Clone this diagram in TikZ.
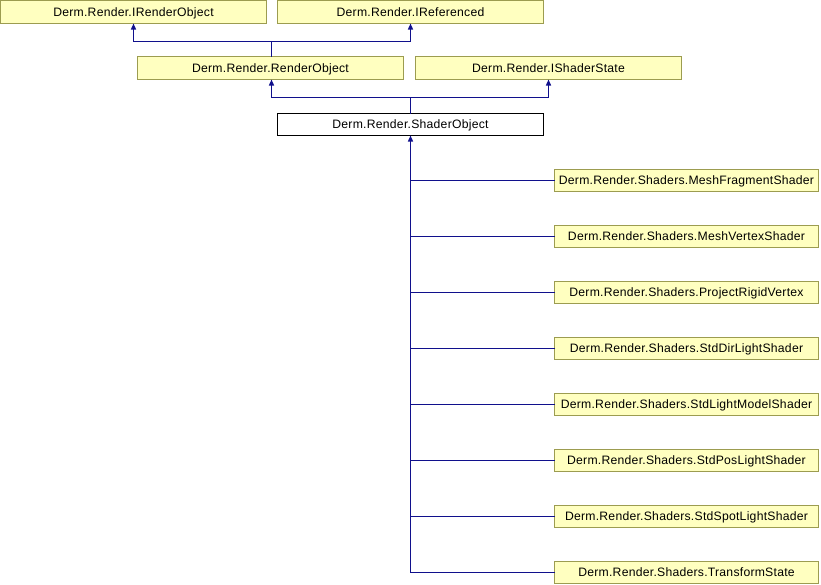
\documentclass[tikz,border=0pt]{standalone}
\usepackage{fontspec}
\setmainfont{Liberation Sans}[LetterSpace=2]
\usetikzlibrary{arrows.meta}
\definecolor{boxfill}{HTML}{FFFFC0}
\definecolor{boxline}{HTML}{9C9C50}
\definecolor{edgecol}{HTML}{10108C}
\tikzset{
  cls/.style={draw=boxline, fill=boxfill, line width=1pt, inner sep=0pt, outer sep=0pt,
    font=\fontsize{12.2}{12.2}\selectfont, text height=9pt, text depth=0.5pt},
  cur/.style={cls, draw=black, fill=white},
  inh/.style={draw=edgecol, line width=1.3pt, -{Triangle[length=6pt,width=5pt]}},
  plain/.style={draw=edgecol, line width=1.3pt},
  bx/.style args={#1/#2}{minimum width=#1pt, minimum height=#2pt},
}
\begin{document}
\begin{tikzpicture}[x=1pt,y=-1pt]
\useasboundingbox (0,0) rectangle (821,584);
\node[cls, bx=266/23, anchor=north west] (iro) at (0.5,0.5) {Derm.Render.IRenderObject};
\node[cls, bx=266/23, anchor=north west] (iref) at (277.5,0.5) {Derm.Render.IReferenced};
\node[cls, bx=266/23, anchor=north west] (ro) at (137.5,56.5) {Derm.Render.RenderObject};
\node[cls, bx=266/23, anchor=north west] (iss) at (415.5,56.5) {Derm.Render.IShaderState};
\node[cur, bx=266/22, anchor=north west] (so) at (277.5,113.5) {Derm.Render.ShaderObject};

\foreach \n/\t [count=\i from 0] in {
  mfs/MeshFragmentShader, mvs/MeshVertexShader, prv/ProjectRigidVertex,
  sdl/StdDirLightShader, slm/StdLightModelShader, spl/StdPosLightShader,
  ssl/StdSpotLightShader, ts/TransformState}{
  \node[cls, bx=264/22, anchor=west] (\n) at (554.5,180.5+56*\i) {Derm.Render.Shaders.\t};
}

% top level inheritance
\coordinate (j1) at (271.5,41.5);
\draw[plain] (ro.north -| j1) -- (j1);
\draw[inh] (j1) -- (133.5,41.5) -- (iro.south -| 133.5,0);
\draw[inh] (j1) -- (410.5,41.5) -- (iref.south -| 410.5,0);
% second level
\coordinate (j2) at (410.5,97.5);
\draw[plain] (so.north -| j2) -- (j2);
\draw[inh] (j2) -- (271.5,97.5) -- (ro.south -| 271.5,0);
\draw[inh] (j2) -- (548.5,97.5) -- (iss.south -| 548.5,0);
% trunk
\coordinate (tr) at (410.5,0);
\draw[inh] (ts.west) -- (ts.west -| tr) -- (so.south -| tr);
\foreach \n in {mfs,mvs,prv,sdl,slm,spl,ssl}{
  \draw[plain] (\n.west) -- (\n.west -| tr);
}
\end{tikzpicture}
\end{document}
